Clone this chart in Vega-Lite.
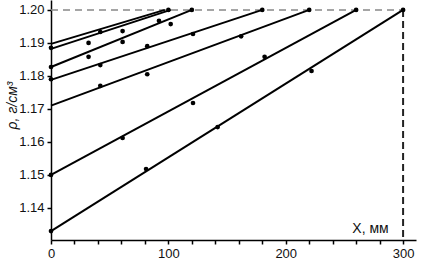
{
  "$schema": "https://vega.github.io/schema/vega-lite/v6.json",
  "width": 365,
  "height": 240,
  "autosize": "none",
  "padding": {"left": 51, "top": 0, "right": 6, "bottom": 21},
  "background": "white",
  "config": {"view": {"stroke": null}, "font": "Liberation Sans"},
  "datasets": {
    "lines": [
      {"s": "L1", "x": 0, "y": 1.1897}, {"s": "L1", "x": 97, "y": 1.2},
      {"s": "L2", "x": 0, "y": 1.1882}, {"s": "L2", "x": 102, "y": 1.2},
      {"s": "L3", "x": 0, "y": 1.1827}, {"s": "L3", "x": 120, "y": 1.2},
      {"s": "L4", "x": 0, "y": 1.1788}, {"s": "L4", "x": 180, "y": 1.2},
      {"s": "L5", "x": 0, "y": 1.171}, {"s": "L5", "x": 220, "y": 1.2},
      {"s": "L6", "x": 0, "y": 1.150}, {"s": "L6", "x": 260, "y": 1.2},
      {"s": "L7", "x": 0, "y": 1.133}, {"s": "L7", "x": 300, "y": 1.2}
    ],
    "dots": [
      {"x": 0, "y": 1.1885}, {"x": 0, "y": 1.1827}, {"x": 0, "y": 1.179}, {"x": 0, "y": 1.150}, {"x": 0, "y": 1.133},
      {"x": 32, "y": 1.190}, {"x": 32, "y": 1.1858}, {"x": 42, "y": 1.1933}, {"x": 42, "y": 1.1833}, {"x": 42, "y": 1.177},
      {"x": 61, "y": 1.1936}, {"x": 61, "y": 1.1903}, {"x": 61, "y": 1.1612},
      {"x": 82, "y": 1.189}, {"x": 82, "y": 1.1805}, {"x": 81, "y": 1.1518},
      {"x": 92, "y": 1.1967}, {"x": 102, "y": 1.1957},
      {"x": 121, "y": 1.1927}, {"x": 121, "y": 1.1718},
      {"x": 142, "y": 1.1645}, {"x": 162, "y": 1.192}, {"x": 182, "y": 1.1858}, {"x": 222, "y": 1.1815},
      {"x": 100, "y": 1.2}, {"x": 120, "y": 1.2}, {"x": 180, "y": 1.2}, {"x": 220, "y": 1.2}, {"x": 260, "y": 1.2}, {"x": 300, "y": 1.2}
    ],
    "hguide": [{"x": 0, "y": 1.2}, {"x": 300, "y": 1.2}],
    "vguide": [{"x": 300, "y": 1.2}, {"x": 300, "y": 1.1303}]
  },
  "encoding": {
    "x": {
      "field": "x", "type": "quantitative",
      "scale": {"domain": [0, 311], "nice": false},
      "axis": {
        "values": [0, 20, 40, 60, 80, 100, 120, 140, 160, 180, 200, 220, 240, 260, 280, 300],
        "labelExpr": "datum.value % 100 === 0 ? datum.label : ''",
        "labelOverlap": false,
        "grid": false, "domainColor": "black", "domainWidth": 1.5, "tickColor": "black", "tickWidth": 1.5, "tickSize": 4,
        "labelFontSize": 13, "labelColor": "#111", "labelPadding": 3, "labelFlush": false,
        "title": "X, мм", "titleFontSize": 14, "titleFontWeight": "normal", "titleColor": "#111",
        "titleX": 319, "titleY": -12, "titleAlign": "center", "titleBaseline": "middle"
      }
    },
    "y": {
      "field": "y", "type": "quantitative",
      "scale": {"domain": [1.1303, 1.203], "nice": false, "zero": false},
      "axis": {
        "values": [1.14, 1.15, 1.16, 1.17, 1.18, 1.19, 1.2],
        "format": ".2f",
        "labelOverlap": false,
        "grid": false, "domainColor": "black", "domainWidth": 1.5, "tickColor": "black", "tickWidth": 1.5, "tickSize": 4,
        "labelFontSize": 13, "labelColor": "#111", "labelPadding": 3,
        "title": "ρ, г/см³", "titleFontSize": 14, "titleFontWeight": "normal", "titleFontStyle": "italic", "titleColor": "#111",
        "titleX": -39, "titleY": 105, "titleAngle": -90, "titleAlign": "center", "titleBaseline": "middle"
      }
    }
  },
  "layer": [
    {
      "data": {"name": "hguide"},
      "mark": {"type": "line", "color": "#888888", "strokeWidth": 1.5, "strokeDash": [7, 5]}
    },
    {
      "data": {"name": "vguide"},
      "mark": {"type": "line", "color": "#222222", "strokeWidth": 2, "strokeDash": [7, 4]}
    },
    {
      "data": {"name": "lines"},
      "mark": {"type": "line", "color": "black", "strokeWidth": 2},
      "encoding": {"detail": {"field": "s"}}
    },
    {
      "data": {"name": "dots"},
      "mark": {"type": "circle", "color": "black", "size": 22, "opacity": 1}
    }
  ]
}
